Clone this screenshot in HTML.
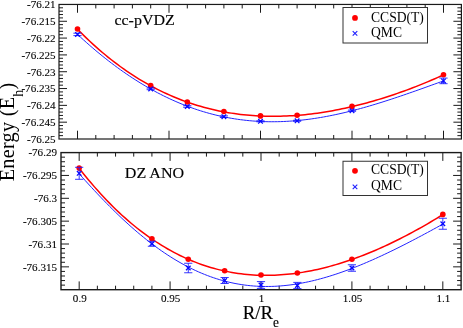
<!DOCTYPE html>
<html><head><meta charset="utf-8"><title>chart</title>
<style>
html,body{margin:0;padding:0;background:#fff;}
body{width:463px;height:328px;overflow:hidden;position:relative;font-family:"Liberation Serif",serif;}
.s{font-family:"Liberation Serif",serif;fill:#000;}
.t{stroke:#000;stroke-width:0.1px;}
.u{stroke:#000;stroke-width:0.15px;}
</style></head><body>
<svg width="463" height="328" viewBox="0 0 463 328" style="position:absolute;left:0;top:0;will-change:transform">
<rect width="100%" height="100%" fill="#fff"/>
<path d="M77.50,139.0 v-8.3 M77.50,4.45 v8.3 M95.80,139.0 v-4 M95.80,4.45 v4 M114.10,139.0 v-4 M114.10,4.45 v4 M132.40,139.0 v-4 M132.40,4.45 v4 M150.70,139.0 v-4 M150.70,4.45 v4 M169.00,139.0 v-8.3 M169.00,4.45 v8.3 M187.30,139.0 v-4 M187.30,4.45 v4 M205.60,139.0 v-4 M205.60,4.45 v4 M223.90,139.0 v-4 M223.90,4.45 v4 M242.20,139.0 v-4 M242.20,4.45 v4 M260.50,139.0 v-8.3 M260.50,4.45 v8.3 M278.80,139.0 v-4 M278.80,4.45 v4 M297.10,139.0 v-4 M297.10,4.45 v4 M315.40,139.0 v-4 M315.40,4.45 v4 M333.70,139.0 v-4 M333.70,4.45 v4 M352.00,139.0 v-8.3 M352.00,4.45 v8.3 M370.30,139.0 v-4 M370.30,4.45 v4 M388.60,139.0 v-4 M388.60,4.45 v4 M406.90,139.0 v-4 M406.90,4.45 v4 M425.20,139.0 v-4 M425.20,4.45 v4 M443.50,139.0 v-8.3 M443.50,4.45 v8.3 M59.0,7.81 h4 M461.4,7.81 h-4 M59.0,11.18 h4 M461.4,11.18 h-4 M59.0,14.54 h4 M461.4,14.54 h-4 M59.0,17.91 h4 M461.4,17.91 h-4 M59.0,21.27 h8 M461.4,21.27 h-8 M59.0,24.63 h4 M461.4,24.63 h-4 M59.0,28.00 h4 M461.4,28.00 h-4 M59.0,31.36 h4 M461.4,31.36 h-4 M59.0,34.72 h4 M461.4,34.72 h-4 M59.0,38.09 h8 M461.4,38.09 h-8 M59.0,41.45 h4 M461.4,41.45 h-4 M59.0,44.82 h4 M461.4,44.82 h-4 M59.0,48.18 h4 M461.4,48.18 h-4 M59.0,51.54 h4 M461.4,51.54 h-4 M59.0,54.91 h8 M461.4,54.91 h-8 M59.0,58.27 h4 M461.4,58.27 h-4 M59.0,61.63 h4 M461.4,61.63 h-4 M59.0,65.00 h4 M461.4,65.00 h-4 M59.0,68.36 h4 M461.4,68.36 h-4 M59.0,71.73 h8 M461.4,71.73 h-8 M59.0,75.09 h4 M461.4,75.09 h-4 M59.0,78.45 h4 M461.4,78.45 h-4 M59.0,81.82 h4 M461.4,81.82 h-4 M59.0,85.18 h4 M461.4,85.18 h-4 M59.0,88.54 h8 M461.4,88.54 h-8 M59.0,91.91 h4 M461.4,91.91 h-4 M59.0,95.27 h4 M461.4,95.27 h-4 M59.0,98.64 h4 M461.4,98.64 h-4 M59.0,102.00 h4 M461.4,102.00 h-4 M59.0,105.36 h8 M461.4,105.36 h-8 M59.0,108.73 h4 M461.4,108.73 h-4 M59.0,112.09 h4 M461.4,112.09 h-4 M59.0,115.45 h4 M461.4,115.45 h-4 M59.0,118.82 h4 M461.4,118.82 h-4 M59.0,122.18 h8 M461.4,122.18 h-8 M59.0,125.55 h4 M461.4,125.55 h-4 M59.0,128.91 h4 M461.4,128.91 h-4 M59.0,132.27 h4 M461.4,132.27 h-4 M59.0,135.64 h4 M461.4,135.64 h-4" stroke="#1a1a1a" stroke-width="1" fill="none"/>
<path d="M77.50,29.20 L80.58,32.32 L83.65,35.37 L86.73,38.35 L89.80,41.26 L92.88,44.10 L95.95,46.88 L99.03,49.58 L102.11,52.22 L105.18,54.80 L108.26,57.31 L111.33,59.76 L114.41,62.14 L117.48,64.47 L120.56,66.73 L123.63,68.93 L126.71,71.07 L129.79,73.16 L132.86,75.18 L135.94,77.15 L139.01,79.06 L142.09,80.91 L145.16,82.71 L148.24,84.45 L151.32,86.14 L154.39,87.78 L157.47,89.36 L160.54,90.89 L163.62,92.37 L166.69,93.80 L169.77,95.18 L172.84,96.50 L175.92,97.78 L179.00,99.02 L182.07,100.20 L185.15,101.34 L188.22,102.43 L191.30,103.47 L194.37,104.47 L197.45,105.43 L200.53,106.34 L203.60,107.20 L206.68,108.03 L209.75,108.81 L212.83,109.55 L215.90,110.25 L218.98,110.90 L222.05,111.52 L225.13,112.10 L228.21,112.64 L231.28,113.13 L234.36,113.60 L237.43,114.02 L240.51,114.40 L243.58,114.75 L246.66,115.06 L249.74,115.34 L252.81,115.58 L255.89,115.79 L258.96,115.96 L262.04,116.09 L265.11,116.20 L268.19,116.26 L271.26,116.30 L274.34,116.30 L277.42,116.28 L280.49,116.21 L283.57,116.12 L286.64,116.00 L289.72,115.85 L292.79,115.66 L295.87,115.45 L298.95,115.20 L302.02,114.93 L305.10,114.63 L308.17,114.30 L311.25,113.94 L314.32,113.55 L317.40,113.14 L320.47,112.69 L323.55,112.22 L326.63,111.73 L329.70,111.20 L332.78,110.65 L335.85,110.08 L338.93,109.48 L342.00,108.85 L345.08,108.19 L348.16,107.52 L351.23,106.81 L354.31,106.09 L357.38,105.33 L360.46,104.56 L363.53,103.76 L366.61,102.93 L369.68,102.08 L372.76,101.21 L375.84,100.31 L378.91,99.39 L381.99,98.45 L385.06,97.49 L388.14,96.50 L391.21,95.49 L394.29,94.45 L397.37,93.40 L400.44,92.32 L403.52,91.22 L406.59,90.09 L409.67,88.95 L412.74,87.78 L415.82,86.59 L418.89,85.38 L421.97,84.14 L425.05,82.89 L428.12,81.61 L431.20,80.31 L434.27,78.99 L437.35,77.65 L440.42,76.28 L443.50,74.90" stroke="#ff0000" stroke-width="1.5" fill="none"/>
<circle cx="77.50" cy="29" r="2.8" fill="#ff0000"/>
<circle cx="150.70" cy="85.6" r="2.8" fill="#ff0000"/>
<circle cx="187.30" cy="102.0" r="2.8" fill="#ff0000"/>
<circle cx="223.90" cy="111.5" r="2.8" fill="#ff0000"/>
<circle cx="260.50" cy="115.9" r="2.8" fill="#ff0000"/>
<circle cx="297.10" cy="115.2" r="2.8" fill="#ff0000"/>
<circle cx="352.00" cy="106.4" r="2.8" fill="#ff0000"/>
<circle cx="443.50" cy="74.7" r="2.8" fill="#ff0000"/>
<path d="M77.50,34.39 L80.58,37.23 L83.65,40.03 L86.73,42.77 L89.80,45.47 L92.88,48.12 L95.95,50.72 L99.03,53.28 L102.11,55.79 L105.18,58.25 L108.26,60.66 L111.33,63.02 L114.41,65.34 L117.48,67.60 L120.56,69.82 L123.63,71.99 L126.71,74.12 L129.79,76.19 L132.86,78.22 L135.94,80.20 L139.01,82.13 L142.09,84.01 L145.16,85.84 L148.24,87.63 L151.32,89.37 L154.39,91.06 L157.47,92.71 L160.54,94.30 L163.62,95.85 L166.69,97.35 L169.77,98.81 L172.84,100.21 L175.92,101.57 L179.00,102.89 L182.07,104.16 L185.15,105.38 L188.22,106.55 L191.30,107.68 L194.37,108.76 L197.45,109.80 L200.53,110.79 L203.60,111.74 L206.68,112.64 L209.75,113.50 L212.83,114.31 L215.90,115.08 L218.98,115.80 L222.05,116.49 L225.13,117.12 L228.21,117.72 L231.28,118.27 L234.36,118.78 L237.43,119.25 L240.51,119.68 L243.58,120.06 L246.66,120.41 L249.74,120.71 L252.81,120.98 L255.89,121.20 L258.96,121.39 L262.04,121.53 L265.11,121.64 L268.19,121.71 L271.26,121.74 L274.34,121.73 L277.42,121.69 L280.49,121.61 L283.57,121.50 L286.64,121.35 L289.72,121.16 L292.79,120.94 L295.87,120.69 L298.95,120.40 L302.02,120.08 L305.10,119.73 L308.17,119.35 L311.25,118.93 L314.32,118.49 L317.40,118.01 L320.47,117.50 L323.55,116.97 L326.63,116.41 L329.70,115.82 L332.78,115.20 L335.85,114.56 L338.93,113.89 L342.00,113.19 L345.08,112.47 L348.16,111.73 L351.23,110.96 L354.31,110.17 L357.38,109.36 L360.46,108.53 L363.53,107.68 L366.61,106.81 L369.68,105.91 L372.76,105.01 L375.84,104.08 L378.91,103.14 L381.99,102.18 L385.06,101.20 L388.14,100.21 L391.21,99.21 L394.29,98.19 L397.37,97.17 L400.44,96.13 L403.52,95.08 L406.59,94.02 L409.67,92.95 L412.74,91.88 L415.82,90.80 L418.89,89.71 L421.97,88.62 L425.05,87.52 L428.12,86.42 L431.20,85.31 L434.27,84.21 L437.35,83.10 L440.42,82.00 L443.50,80.90" stroke="#2424ff" stroke-width="1.0" fill="none"/>
<path d="M77.50,33.20 V35.60 M73.40,33.20 h8.2 M73.40,35.60 h8.2 M150.70,88.10 V89.70 M146.60,88.10 h8.2 M146.60,89.70 h8.2 M187.30,105.70 V107.30 M183.20,105.70 h8.2 M183.20,107.30 h8.2 M223.90,115.90 V117.50 M219.80,115.90 h8.2 M219.80,117.50 h8.2 M260.50,120.80 V121.80 M256.40,120.80 h8.2 M256.40,121.80 h8.2 M297.10,120.30 V121.30 M293.00,120.30 h8.2 M293.00,121.30 h8.2 M352.00,110.10 V111.30 M347.90,110.10 h8.2 M347.90,111.30 h8.2 M443.50,78.10 V83.70 M439.40,78.10 h8.2 M439.40,83.70 h8.2" stroke="#1e1eff" stroke-width="0.9" fill="none"/>
<path d="M75.20,32.10 l4.6,4.6 M75.20,36.70 l4.6,-4.6 M148.40,86.60 l4.6,4.6 M148.40,91.20 l4.6,-4.6 M185.00,104.20 l4.6,4.6 M185.00,108.80 l4.6,-4.6 M221.60,114.40 l4.6,4.6 M221.60,119.00 l4.6,-4.6 M258.20,119.00 l4.6,4.6 M258.20,123.60 l4.6,-4.6 M294.80,118.50 l4.6,4.6 M294.80,123.10 l4.6,-4.6 M349.70,108.40 l4.6,4.6 M349.70,113.00 l4.6,-4.6 M441.20,78.60 l4.6,4.6 M441.20,83.20 l4.6,-4.6" stroke="#0808ff" stroke-width="1.25" fill="none"/>
<rect x="59.0" y="4.45" width="402.4" height="134.55" fill="none" stroke="#1a1a1a" stroke-width="1.2"/>
<rect x="343" y="7.5" width="84.5" height="35.5" fill="#fff" stroke="#333" stroke-width="1"/>
<circle cx="355.0" cy="17.9" r="2.9" fill="#ff0000"/>
<path d="M352.7,31.099999999999998 l4.6,4.6 M352.7,35.699999999999996 l4.6,-4.6" stroke="#2020ff" stroke-width="1.1" fill="none"/>
<text x="371.0" y="21.8" font-size="13.6" class="s">CCSD(T)</text>
<text x="371.0" y="37.4" font-size="13.6" class="s">QMC</text>
<path d="M79.18,289.7 v-8.3 M79.18,152.6 v8.3 M97.36,289.7 v-4 M97.36,152.6 v4 M115.55,289.7 v-4 M115.55,152.6 v4 M133.73,289.7 v-4 M133.73,152.6 v4 M151.91,289.7 v-4 M151.91,152.6 v4 M170.09,289.7 v-8.3 M170.09,152.6 v8.3 M188.27,289.7 v-4 M188.27,152.6 v4 M206.45,289.7 v-4 M206.45,152.6 v4 M224.64,289.7 v-4 M224.64,152.6 v4 M242.82,289.7 v-4 M242.82,152.6 v4 M261.00,289.7 v-8.3 M261.00,152.6 v8.3 M279.18,289.7 v-4 M279.18,152.6 v4 M297.36,289.7 v-4 M297.36,152.6 v4 M315.55,289.7 v-4 M315.55,152.6 v4 M333.73,289.7 v-4 M333.73,152.6 v4 M351.91,289.7 v-8.3 M351.91,152.6 v8.3 M370.09,289.7 v-4 M370.09,152.6 v4 M388.27,289.7 v-4 M388.27,152.6 v4 M406.45,289.7 v-4 M406.45,152.6 v4 M424.64,289.7 v-4 M424.64,152.6 v4 M442.82,289.7 v-8.3 M442.82,152.6 v8.3 M61.0,157.17 h4 M461.1,157.17 h-4 M61.0,161.74 h4 M461.1,161.74 h-4 M61.0,166.31 h4 M461.1,166.31 h-4 M61.0,170.88 h4 M461.1,170.88 h-4 M61.0,175.45 h8 M461.1,175.45 h-8 M61.0,180.02 h4 M461.1,180.02 h-4 M61.0,184.59 h4 M461.1,184.59 h-4 M61.0,189.16 h4 M461.1,189.16 h-4 M61.0,193.73 h4 M461.1,193.73 h-4 M61.0,198.30 h8 M461.1,198.30 h-8 M61.0,202.87 h4 M461.1,202.87 h-4 M61.0,207.44 h4 M461.1,207.44 h-4 M61.0,212.01 h4 M461.1,212.01 h-4 M61.0,216.58 h4 M461.1,216.58 h-4 M61.0,221.15 h8 M461.1,221.15 h-8 M61.0,225.72 h4 M461.1,225.72 h-4 M61.0,230.29 h4 M461.1,230.29 h-4 M61.0,234.86 h4 M461.1,234.86 h-4 M61.0,239.43 h4 M461.1,239.43 h-4 M61.0,244.00 h8 M461.1,244.00 h-8 M61.0,248.57 h4 M461.1,248.57 h-4 M61.0,253.14 h4 M461.1,253.14 h-4 M61.0,257.71 h4 M461.1,257.71 h-4 M61.0,262.28 h4 M461.1,262.28 h-4 M61.0,266.85 h8 M461.1,266.85 h-8 M61.0,271.42 h4 M461.1,271.42 h-4 M61.0,275.99 h4 M461.1,275.99 h-4 M61.0,280.56 h4 M461.1,280.56 h-4 M61.0,285.13 h4 M461.1,285.13 h-4" stroke="#1a1a1a" stroke-width="1" fill="none"/>
<path d="M79.18,168.29 L82.24,172.18 L85.29,175.98 L88.35,179.70 L91.40,183.33 L94.46,186.88 L97.52,190.34 L100.57,193.73 L103.63,197.03 L106.68,200.25 L109.74,203.39 L112.80,206.45 L115.85,209.44 L118.91,212.35 L121.96,215.18 L125.02,217.93 L128.07,220.61 L131.13,223.22 L134.19,225.76 L137.24,228.22 L140.30,230.61 L143.35,232.92 L146.41,235.17 L149.46,237.35 L152.52,239.46 L155.58,241.50 L158.63,243.48 L161.69,245.38 L164.74,247.23 L167.80,249.00 L170.85,250.71 L173.91,252.36 L176.97,253.95 L180.02,255.47 L183.08,256.93 L186.13,258.33 L189.19,259.67 L192.25,260.95 L195.30,262.17 L198.36,263.33 L201.41,264.44 L204.47,265.48 L207.52,266.48 L210.58,267.41 L213.64,268.29 L216.69,269.11 L219.75,269.89 L222.80,270.60 L225.86,271.27 L228.91,271.88 L231.97,272.44 L235.03,272.95 L238.08,273.41 L241.14,273.82 L244.19,274.18 L247.25,274.49 L250.30,274.75 L253.36,274.97 L256.42,275.14 L259.47,275.26 L262.53,275.34 L265.58,275.37 L268.64,275.35 L271.70,275.29 L274.75,275.19 L277.81,275.04 L280.86,274.85 L283.92,274.62 L286.97,274.35 L290.03,274.03 L293.09,273.68 L296.14,273.28 L299.20,272.84 L302.25,272.37 L305.31,271.85 L308.36,271.30 L311.42,270.71 L314.48,270.08 L317.53,269.41 L320.59,268.71 L323.64,267.97 L326.70,267.19 L329.75,266.38 L332.81,265.53 L335.87,264.65 L338.92,263.73 L341.98,262.78 L345.03,261.80 L348.09,260.78 L351.15,259.73 L354.20,258.65 L357.26,257.54 L360.31,256.39 L363.37,255.21 L366.42,254.00 L369.48,252.76 L372.54,251.49 L375.59,250.19 L378.65,248.86 L381.70,247.51 L384.76,246.12 L387.81,244.70 L390.87,243.26 L393.93,241.78 L396.98,240.28 L400.04,238.75 L403.09,237.20 L406.15,235.61 L409.20,234.00 L412.26,232.37 L415.32,230.70 L418.37,229.01 L421.43,227.30 L424.48,225.56 L427.54,223.80 L430.60,222.01 L433.65,220.19 L436.71,218.35 L439.76,216.49 L442.82,214.60" stroke="#ff0000" stroke-width="1.5" fill="none"/>
<circle cx="79.18" cy="168.1" r="2.8" fill="#ff0000"/>
<circle cx="151.91" cy="238.75" r="2.8" fill="#ff0000"/>
<circle cx="188.27" cy="259.25" r="2.8" fill="#ff0000"/>
<circle cx="224.64" cy="270.75" r="2.8" fill="#ff0000"/>
<circle cx="261.00" cy="275" r="2.8" fill="#ff0000"/>
<circle cx="297.36" cy="273" r="2.8" fill="#ff0000"/>
<circle cx="351.91" cy="259.25" r="2.8" fill="#ff0000"/>
<circle cx="442.82" cy="214.4" r="2.8" fill="#ff0000"/>
<path d="M79.18,173.78 L82.24,177.21 L85.29,180.61 L88.35,183.98 L91.40,187.31 L94.46,190.61 L97.52,193.87 L100.57,197.09 L103.63,200.27 L106.68,203.40 L109.74,206.49 L112.80,209.54 L115.85,212.53 L118.91,215.48 L121.96,218.38 L125.02,221.22 L128.07,224.01 L131.13,226.75 L134.19,229.43 L137.24,232.06 L140.30,234.63 L143.35,237.14 L146.41,239.60 L149.46,241.99 L152.52,244.32 L155.58,246.60 L158.63,248.81 L161.69,250.96 L164.74,253.05 L167.80,255.07 L170.85,257.04 L173.91,258.94 L176.97,260.77 L180.02,262.54 L183.08,264.25 L186.13,265.89 L189.19,267.47 L192.25,268.98 L195.30,270.43 L198.36,271.82 L201.41,273.14 L204.47,274.39 L207.52,275.58 L210.58,276.71 L213.64,277.78 L216.69,278.78 L219.75,279.71 L222.80,280.59 L225.86,281.40 L228.91,282.15 L231.97,282.84 L235.03,283.47 L238.08,284.03 L241.14,284.54 L244.19,284.98 L247.25,285.37 L250.30,285.70 L253.36,285.97 L256.42,286.18 L259.47,286.34 L262.53,286.44 L265.58,286.49 L268.64,286.48 L271.70,286.41 L274.75,286.30 L277.81,286.13 L280.86,285.91 L283.92,285.64 L286.97,285.32 L290.03,284.96 L293.09,284.54 L296.14,284.08 L299.20,283.57 L302.25,283.01 L305.31,282.41 L308.36,281.77 L311.42,281.08 L314.48,280.36 L317.53,279.59 L320.59,278.78 L323.64,277.93 L326.70,277.05 L329.75,276.13 L332.81,275.17 L335.87,274.18 L338.92,273.15 L341.98,272.09 L345.03,270.99 L348.09,269.87 L351.15,268.72 L354.20,267.53 L357.26,266.32 L360.31,265.08 L363.37,263.81 L366.42,262.52 L369.48,261.20 L372.54,259.86 L375.59,258.49 L378.65,257.10 L381.70,255.70 L384.76,254.26 L387.81,252.81 L390.87,251.34 L393.93,249.86 L396.98,248.35 L400.04,246.83 L403.09,245.29 L406.15,243.74 L409.20,242.17 L412.26,240.58 L415.32,238.98 L418.37,237.37 L421.43,235.75 L424.48,234.12 L427.54,232.47 L430.60,230.81 L433.65,229.15 L436.71,227.47 L439.76,225.78 L442.82,224.08" stroke="#2424ff" stroke-width="1.0" fill="none"/>
<path d="M79.18,167.30 V179.30 M75.08,167.30 h8.2 M75.08,179.30 h8.2 M151.91,241.25 V246.25 M147.81,241.25 h8.2 M147.81,246.25 h8.2 M188.27,263.25 V272.75 M184.17,263.25 h8.2 M184.17,272.75 h8.2 M224.64,277.50 V283.50 M220.54,277.50 h8.2 M220.54,283.50 h8.2 M261.00,281.60 V288.40 M256.90,281.60 h8.2 M256.90,288.40 h8.2 M297.36,282.40 V288.60 M293.26,282.40 h8.2 M293.26,288.60 h8.2 M351.91,264.75 V271.25 M347.81,264.75 h8.2 M347.81,271.25 h8.2 M442.82,218.25 V229.25 M438.72,218.25 h8.2 M438.72,229.25 h8.2" stroke="#1e1eff" stroke-width="0.9" fill="none"/>
<path d="M76.88,171.00 l4.6,4.6 M76.88,175.60 l4.6,-4.6 M149.61,241.45 l4.6,4.6 M149.61,246.05 l4.6,-4.6 M185.97,265.70 l4.6,4.6 M185.97,270.30 l4.6,-4.6 M222.34,278.20 l4.6,4.6 M222.34,282.80 l4.6,-4.6 M258.70,282.70 l4.6,4.6 M258.70,287.30 l4.6,-4.6 M295.06,283.20 l4.6,4.6 M295.06,287.80 l4.6,-4.6 M349.61,265.70 l4.6,4.6 M349.61,270.30 l4.6,-4.6 M440.52,221.45 l4.6,4.6 M440.52,226.05 l4.6,-4.6" stroke="#0808ff" stroke-width="1.25" fill="none"/>
<rect x="61.0" y="152.6" width="400.1" height="137.1" fill="none" stroke="#1a1a1a" stroke-width="1.4"/>
<rect x="343" y="161.25" width="84.5" height="34.25" fill="#fff" stroke="#333" stroke-width="1"/>
<circle cx="355.0" cy="170.85" r="2.9" fill="#ff0000"/>
<path d="M352.7,184.6 l4.6,4.6 M352.7,189.20000000000002 l4.6,-4.6" stroke="#2020ff" stroke-width="1.1" fill="none"/>
<text x="371.0" y="174.3" font-size="13.6" class="s">CCSD(T)</text>
<text x="371.0" y="189.9" font-size="13.6" class="s">QMC</text>
<text transform="translate(55.55,8.35) scale(1.045,1)" font-size="10.6" text-anchor="end" class="s t">-76.21</text>
<text transform="translate(55.55,25.17) scale(1.045,1)" font-size="10.6" text-anchor="end" class="s t">-76.215</text>
<text transform="translate(55.55,41.99) scale(1.045,1)" font-size="10.6" text-anchor="end" class="s t">-76.22</text>
<text transform="translate(55.55,58.81) scale(1.045,1)" font-size="10.6" text-anchor="end" class="s t">-76.225</text>
<text transform="translate(55.55,75.63) scale(1.045,1)" font-size="10.6" text-anchor="end" class="s t">-76.23</text>
<text transform="translate(55.55,92.44) scale(1.045,1)" font-size="10.6" text-anchor="end" class="s t">-76.235</text>
<text transform="translate(55.55,109.26) scale(1.045,1)" font-size="10.6" text-anchor="end" class="s t">-76.24</text>
<text transform="translate(55.55,126.08) scale(1.045,1)" font-size="10.6" text-anchor="end" class="s t">-76.245</text>
<text transform="translate(55.55,142.90) scale(1.045,1)" font-size="10.6" text-anchor="end" class="s t">-76.25</text>
<text transform="translate(57.0,156.45) scale(1.045,1)" font-size="10.6" text-anchor="end" class="s t">-76.29</text>
<text transform="translate(57.0,179.30) scale(1.045,1)" font-size="10.6" text-anchor="end" class="s t">-76.295</text>
<text transform="translate(57.0,202.15) scale(1.045,1)" font-size="10.6" text-anchor="end" class="s t">-76.3</text>
<text transform="translate(57.0,225.00) scale(1.045,1)" font-size="10.6" text-anchor="end" class="s t">-76.305</text>
<text transform="translate(57.0,247.85) scale(1.045,1)" font-size="10.6" text-anchor="end" class="s t">-76.31</text>
<text transform="translate(57.0,270.70) scale(1.045,1)" font-size="10.6" text-anchor="end" class="s t">-76.315</text>
<text transform="translate(79.78,302.2) scale(1.045,1)" font-size="10.6" text-anchor="middle" class="s t">0.9</text>
<text transform="translate(170.69,302.2) scale(1.045,1)" font-size="10.6" text-anchor="middle" class="s t">0.95</text>
<text transform="translate(261.60,302.2) scale(1.045,1)" font-size="10.6" text-anchor="middle" class="s t">1</text>
<text transform="translate(352.51,302.2) scale(1.045,1)" font-size="10.6" text-anchor="middle" class="s t">1.05</text>
<text transform="translate(443.42,302.2) scale(1.045,1)" font-size="10.6" text-anchor="middle" class="s t">1.1</text>
<text x="114.4" y="24.6" font-size="15.6" textLength="60.4" lengthAdjust="spacingAndGlyphs" class="s u">cc-pVDZ</text>
<text x="124.8" y="177.8" font-size="15.6" textLength="59.3" lengthAdjust="spacingAndGlyphs" class="s u">DZ ANO</text>
<text transform="translate(242.7,318.8) scale(0.95,1)" font-size="19.8" class="s u">R/R<tspan font-size="14" dy="7.8">e</tspan></text>
<text transform="translate(13.8,181.3) rotate(-90)" font-size="20.3" textLength="98.6" lengthAdjust="spacing" class="s">Energy (E<tspan font-size="14" dy="9">h</tspan><tspan dy="-9">)</tspan></text>
</svg>
</body></html>
